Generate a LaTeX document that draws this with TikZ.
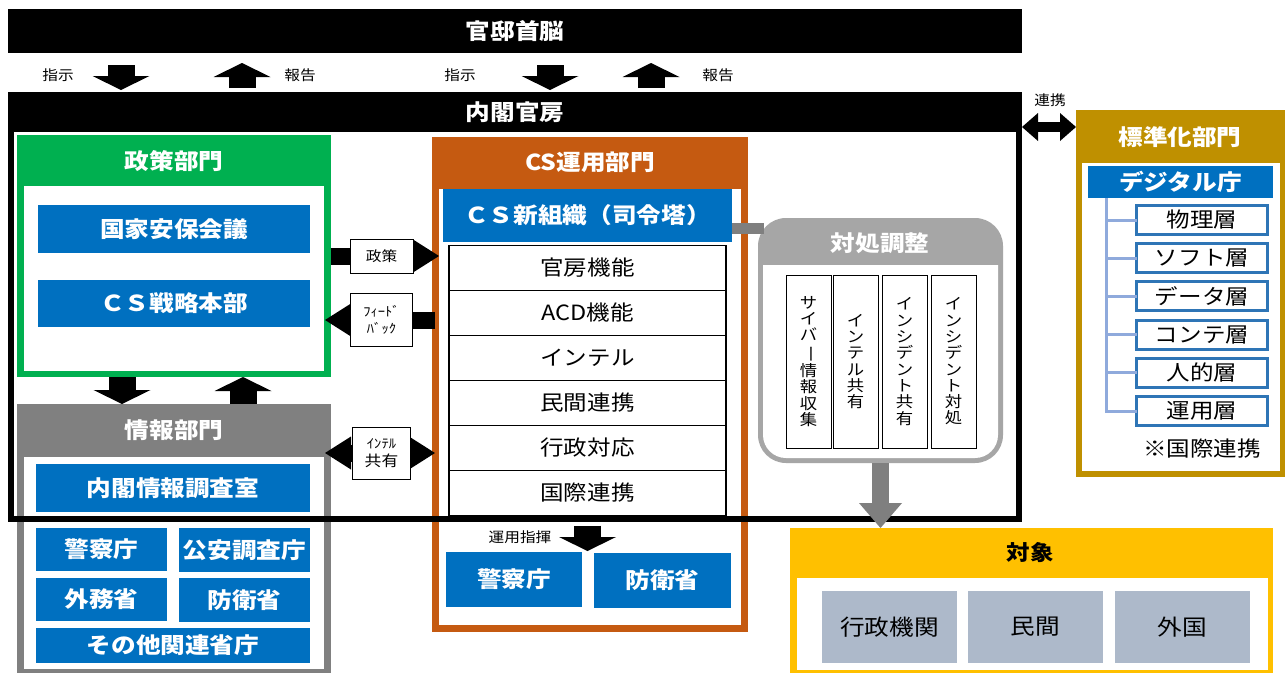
\documentclass[tikz,border=0pt]{standalone}
\usepackage{fontspec}
\usepackage{graphicx}
\setmainfont{Noto Sans CJK JP}[FakeStretch=1.12]
\usetikzlibrary{arrows.meta}
\definecolor{sgreen}{HTML}{00B050}
\definecolor{jblue}{HTML}{0070C0}
\definecolor{corange}{HTML}{C55A11}
\definecolor{igrey}{HTML}{808080}
\definecolor{dgrey}{HTML}{7F7F7F}
\definecolor{tgrey}{HTML}{A6A6A6}
\definecolor{sgold}{HTML}{BF9000}
\definecolor{tyellow}{HTML}{FFC000}
\definecolor{tblue}{HTML}{ADB9CA}
\definecolor{lblue}{HTML}{2E75B6}
\definecolor{treeblue}{HTML}{8FAADC}
\newcommand\fsz[1]{\fontsize{#1}{#1}\selectfont}
\newcommand\vchoon{\rotatebox[origin=c]{-90}{ー}}

\begin{document}
\begin{tikzpicture}[x=1pt,y=-1pt,
	box/.style={inner sep=0pt,outer sep=0pt},
	bar/.style={box,fill=black,text=white,font=\bfseries\fsz{22},minimum width=1014,minimum height=#1},
	headtext/.style={text=white,font=\bfseries\fsz{22}},
	bluebox/.style={box,fill=jblue,text=white,font=\bfseries\fsz{22}},
	funcbox/.style={box,draw=black,line width=1.2pt,fill=white,font=\fsz{21},minimum width=277,minimum height=45},
	labelbox/.style={box,draw=black,line width=1pt,fill=white,align=center},
	vbox/.style={box,draw=black,line width=1pt,fill=white,minimum width=45,minimum height=173,align=center,font=\fontsize{15.5}{16.3}\selectfont},
	layerbox/.style={box,draw=lblue,line width=3pt,fill=white,font=\fsz{21},minimum width=131,minimum height=29},
	targetbox/.style={box,fill=tblue,font=\fsz{22},minimum width=135,minimum height=72},
	small/.style={font=\fsz{14}},
	treeline/.style={treeblue,line width=3pt},
	bigtip/.tip={Triangle[width=57pt,length=14pt,line width=0pt]},
	midtip/.tip={Triangle[width=33pt,length=26pt,line width=0pt]},
	greytip/.tip={Triangle[width=43pt,length=25pt,line width=0pt]},
	linktip/.tip={Triangle[width=28pt,length=16pt,line width=0pt]},
	bigarrow/.style={line width=27pt,-bigtip},
	midarrow/.style={line width=17pt,-midtip}]
	\useasboundingbox (0,0) rectangle (1287,672);
	\clip (0,0) rectangle (1287,672);
	\fill[white] (0,0) rectangle (1287,672);

	\node[bar=44] (kantei) at (515,31) {官邸首脳};
	\node[bar=40] (naikaku) at (515,112) {内閣官房};
	\node[small] (shiji1) at (58,75) {指示};
	\node[small] (hokoku1) at (300,75) {報告};
	\node[small] (shiji2) at (460,75) {指示};
	\node[small] (hokoku2) at (718,75) {報告};
	\draw[bigarrow,shorten <=12pt,shorten >=2pt] ([xshift=-394pt]kantei.south) -- ([xshift=-394pt]naikaku.north);
	\draw[bigarrow,shorten <=4pt,shorten >=10pt] ([xshift=-273pt]naikaku.north) -- ([xshift=-273pt]kantei.south);
	\draw[bigarrow,shorten <=12pt,shorten >=2pt] ([xshift=35pt]kantei.south) -- ([xshift=35pt]naikaku.north);
	\draw[bigarrow,shorten <=4pt,shorten >=10pt] ([xshift=136pt]naikaku.north) -- ([xshift=136pt]kantei.south);

	\node[box,fill=sgreen,minimum width=314,minimum height=242] (seisaku) at (174,256) {};
	\node[box,fill=white,minimum width=300,minimum height=185] (seisakuin) at (174,278.5) {};
	\node[headtext] (seisakuhd) at (174,161) {政策部門};
	\node[bluebox,minimum width=272,minimum height=48] (kokka) at (174,229) {国家安保会議};
	\node[bluebox,minimum width=272,minimum height=47] (senryaku) at (174,303.5) {ＣＳ戦略本部};

	\node[box,fill=igrey,minimum width=314,minimum height=271] (joho) at (174,539.5) {};
	\node[box,fill=white,minimum width=300,minimum height=212] (johoin) at (174,563) {};
	\node[headtext] (johohd) at (174,430) {情報部門};
	\node[bluebox,minimum width=274,minimum height=48] (naicho) at (173,488) {内閣情報調査室};
	\node[bluebox,minimum width=131,minimum height=43] (keisatsu) at (101.5,549.5) {警察庁};
	\node[bluebox,minimum width=131,minimum height=44] (koan) at (244.5,550) {公安調査庁};
	\node[bluebox,minimum width=131,minimum height=43] (gaimu) at (101.5,599.5) {外務省};
	\node[bluebox,minimum width=131,minimum height=44] (boei) at (244.5,600) {防衛省};
	\node[bluebox,minimum width=274,minimum height=35] (sonota) at (173,645.5) {その他関連省庁};
	\draw[bigarrow] ([xshift=-52pt]seisaku.south) -- ([xshift=-52pt]joho.north);
	\draw[bigarrow] ([xshift=69pt]joho.north) -- ([xshift=69pt]seisaku.south);

	\node[box,fill=corange,minimum width=316,minimum height=495] (cs) at (590,384.5) {};
	\node[box,fill=white,minimum width=302,minimum height=436] (csin) at (590,407) {};
	\node[headtext] (cshd) at (590,162) {CS運用部門};
	\node[bluebox,minimum width=289,minimum height=53] (csnew) at (587.5,215.5) {ＣＳ新組織（司令塔）};
	\foreach \t [count=\i] in {官房機能,ACD機能,インテル,民間連携,行政対応,国際連携}
		\node[funcbox] (func\i) at (587.5,223+45*\i) {\t};
	\node[small] (unyo) at (520,537) {運用指揮};
	\node[bluebox,minimum width=136,minimum height=55] (cskeisatsu) at (514,579.5) {警察庁};
	\node[bluebox,minimum width=137,minimum height=55] (csboei) at (662.5,580.5) {防衛省};
	\draw[bigarrow,shorten <=10pt,shorten >=1pt] (func6.south) -- (func6.south |- cskeisatsu.north);

	\node[box,fill=tgrey,rounded corners=28pt,minimum width=245,minimum height=245] (taisho) at (880.5,340.5) {};
	\fill[white] (763,265) -- (998,265) -- (998,435) arc (0:90:23) -- (786,458) arc (90:180:23) -- cycle;
	\node[headtext] (taishohd) at (880,243) {対処調整};
	\node[vbox] (cyber) at (808.5,361.5) {サ\\イ\\バ\\\vchoon\\情\\報\\収\\集};
	\node[vbox] (intel) at (855.5,361.5) {イ\\ン\\テ\\ル\\共\\有};
	\node[vbox] (incshare) at (904.5,361.5) {イ\\ン\\シ\\デ\\ン\\ト\\共\\有};
	\node[vbox] (incresp) at (953.5,361.5) {イ\\ン\\シ\\デ\\ン\\ト\\対\\処};
	\draw[dgrey,line width=11pt,shorten >=-6pt] ([yshift=-12.5pt]csnew.east) -- ([yshift=-12.5pt]csnew.east -| taisho.west);

	\node[box,fill=tyellow,minimum width=483,minimum height=147] (target) at (1031.5,601.5) {};
	\node[box,fill=white,minimum width=471,minimum height=92] (targetin) at (1032.5,624) {};
	\node[font=\bfseries\fsz{21}] (targethd) at (1030,553) {対象};
	\node[targetbox] (gyosei) at (889.5,627) {行政機関};
	\node[targetbox] (minkan) at (1035.5,627) {民間};
	\node[targetbox] (gaikoku) at (1182.5,627) {外国};

	\node[box,fill=sgold,minimum width=209,minimum height=367] (hyojun) at (1180.5,293.5) {};
	\node[box,fill=white,minimum width=198,minimum height=308] (hyojunin) at (1181,317) {};
	\node[headtext] (hyojunhd) at (1180,137) {標準化部門};
	\node[bluebox,minimum width=185,minimum height=32] (digital) at (1180.5,182) {デジタル庁};
	\coordinate (treetop) at ([xshift=-74.5pt]digital.south);
	\foreach \t [count=\i] in {物理層,ソフト層,データ層,コンテ層,人的層,運用層}
		\node[layerbox] (layer\i) at (1202,181.8+38.2*\i) {\t};
	\draw[treeline] (treetop) |- (layer6.west);
	\foreach \i in {1,...,5}
		\draw[treeline] (treetop |- layer\i.west) -- (layer\i.west);
	\node[font=\fsz{21}] (kokusai) at (1202,449) {※国際連携};

	\node[box,draw=black,line width=6pt,minimum width=1008,minimum height=424] (naikakuframe) at (515,307) {};

	\draw[dgrey,line width=17pt,-greytip] (taisho.south) -- (taisho.south |- target.north);
	\draw[midarrow,shorten >=-7pt] (seisaku.east) -- node[labelbox,minimum width=63,minimum height=34,font=\fsz{14}] (seisakulbl) {政策} (cs.west |- seisaku.east);
	\draw[midarrow,shorten >=-6pt,shorten <=-3pt] ([yshift=-64pt]cs.west |- seisaku.east) -- node[labelbox,minimum width=62,minimum height=53,font=\fontsize{13}{17}\selectfont] (fblbl) {ﾌｨｰﾄﾞ\\ﾊﾞｯｸ} ([yshift=-64pt]seisaku.east);
	\draw[line width=17pt,midtip-midtip,shorten <=-6pt,shorten >=-3pt] ([yshift=86.5pt]joho.east) -- node[labelbox,minimum width=58,minimum height=52,font=\fontsize{13}{18}\selectfont] (intellbl) {ｲﾝﾃﾙ\\{\fsz{15}共有}} ([yshift=86.5pt]joho.east -| cs.west);
	\draw[line width=10pt,linktip-linktip] ([yshift=-15pt]naikaku.east) -- ([yshift=-15pt]naikaku.east -| hyojun.west);
	\node[small] (renkei) at (1050,100) {連携};
\end{tikzpicture}
\end{document}
